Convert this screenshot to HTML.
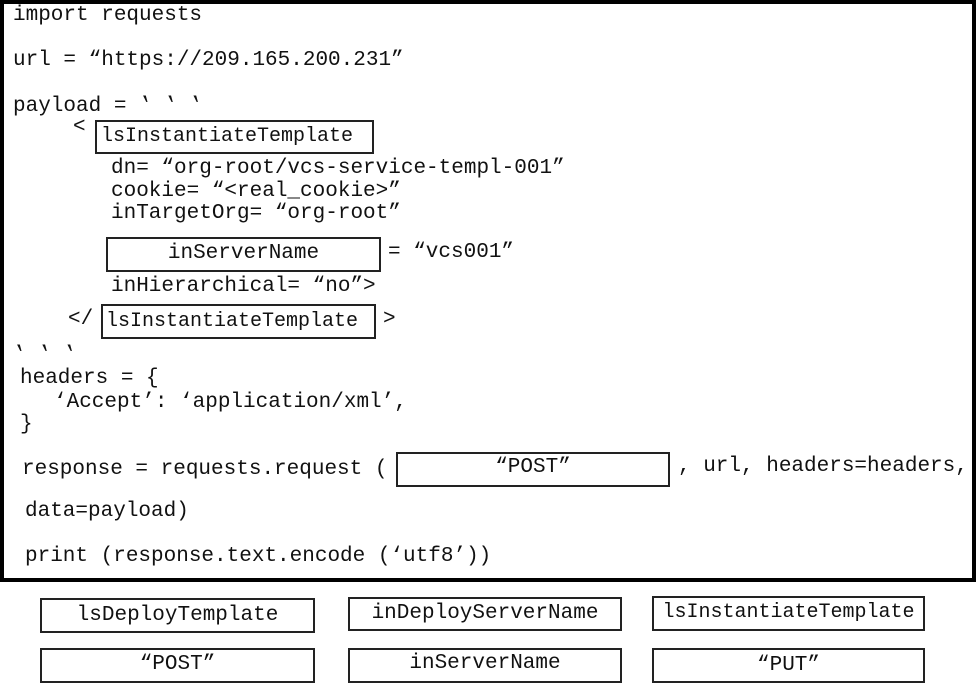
<!DOCTYPE html>
<html><head><meta charset="utf-8"><style>
body{margin:0;background:#fff;width:976px;height:683px;position:relative;overflow:hidden;font-family:"Liberation Mono","Courier New",monospace;font-size:21px;color:#111}
.t{position:absolute;white-space:pre;line-height:24px;height:24px}
.b{position:absolute;border:2px solid #222;box-sizing:border-box;white-space:pre;text-align:center}
.outer{position:absolute;left:0;top:0;width:976px;height:582px;border:4px solid #000;box-sizing:border-box}
</style></head><body>
<div class="outer"></div>
<div class="t" style="left:13px;top:4px">import requests</div>
<div class="t" style="left:13px;top:49px">url = “https://209.165.200.231”</div>
<div class="t" style="left:13px;top:95px">payload = ‛ ‛ ‛</div>
<div class="t" style="left:73px;top:116px">&lt;</div>
<div class="b" style="left:95px;top:120px;width:279px;height:34px;line-height:30px;text-align:left;padding-left:4px;font-size:20px">lsInstantiateTemplate</div>
<div class="t" style="left:111px;top:157px">dn= “org-root/vcs-service-templ-001”</div>
<div class="t" style="left:111px;top:180px">cookie= “&lt;real_cookie&gt;”</div>
<div class="t" style="left:111px;top:202px">inTargetOrg= “org-root”</div>
<div class="b" style="left:106px;top:237px;width:275px;height:35px;line-height:30px">inServerName</div>
<div class="t" style="left:388px;top:241px">= “vcs001”</div>
<div class="t" style="left:111px;top:275px">inHierarchical= “no”&gt;</div>
<div class="t" style="left:68px;top:308px">&lt;/</div>
<div class="b" style="left:101px;top:304px;width:275px;height:35px;line-height:32px;text-align:left;padding-left:3px;font-size:20px">lsInstantiateTemplate</div>
<div class="t" style="left:383px;top:308px">&gt;</div>
<div class="t" style="left:13px;top:344px">‛ ‛ ‛</div>
<div class="t" style="left:20px;top:367px">headers = {</div>
<div class="t" style="left:54px;top:391px">‘Accept’: ‘application/xml’,</div>
<div class="t" style="left:20px;top:413px">}</div>
<div class="t" style="left:22px;top:458px">response = requests.request (</div>
<div class="b" style="left:396px;top:452px;width:274px;height:35px;line-height:28px">“POST”</div>
<div class="t" style="left:678px;top:455px">, url, headers=headers,</div>
<div class="t" style="left:25px;top:500px">data=payload)</div>
<div class="t" style="left:25px;top:545px">print (response.text.encode (‘utf8’))</div>
<div class="b" style="left:40px;top:598px;width:275px;height:35px;line-height:31px">lsDeployTemplate</div>
<div class="b" style="left:348px;top:597px;width:274px;height:34px;line-height:29px">inDeployServerName</div>
<div class="b" style="left:652px;top:596px;width:273px;height:35px;line-height:30px;font-size:20px">lsInstantiateTemplate</div>
<div class="b" style="left:40px;top:648px;width:275px;height:35px;line-height:29px">“POST”</div>
<div class="b" style="left:348px;top:648px;width:274px;height:35px;line-height:28px">inServerName</div>
<div class="b" style="left:652px;top:648px;width:273px;height:35px;line-height:32px">“PUT”</div>
</body></html>
